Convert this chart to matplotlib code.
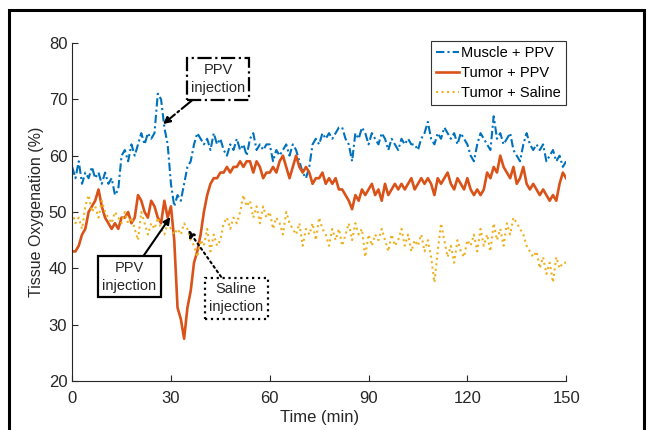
#!/usr/bin/env python3
"""Tissue oxygenation vs time after PPV / saline injection (MATLAB-style figure)."""
import numpy as np
import matplotlib
matplotlib.use("Agg")
import matplotlib.pyplot as plt
from matplotlib.patches import Rectangle

plt.rcParams["font.family"] = ["Liberation Sans", "DejaVu Sans"]

# =============================================================================
# DATA (1-min sampling)
# =============================================================================
time_min = np.arange(0, 151)

muscle_ppv = [
    58, 56, 59, 55, 57, 56, 58, 56, 57, 55,   # 0-9
    57, 55, 56, 53, 54, 60, 61, 59, 62, 60,   # 10-19
    62, 64, 62, 64, 63, 64, 71, 70, 65, 62,   # 20-29
    55, 51, 53, 52, 55, 58, 59, 62, 64, 63,   # 30-39
    62, 63, 61, 64, 62, 63, 61, 60, 62, 61,   # 40-49
    63, 61, 62, 60, 63, 64, 61, 62, 61, 62,   # 50-59
    62, 59, 61, 60, 61, 62, 60, 62, 61, 59,   # 60-69
    57, 56, 58, 62, 63, 62, 64, 63, 64, 63,   # 70-79
    64, 65, 65, 63, 62, 59, 64, 63, 65, 64,   # 80-89
    62, 64, 63, 62, 64, 63, 61, 63, 62, 61,   # 90-99
    63, 62, 63, 62, 62, 61, 63, 64, 66, 63,   # 100-109
    62, 64, 63, 65, 64, 63, 64, 62, 64, 63,   # 110-119
    62, 60, 59, 62, 64, 63, 62, 61, 67, 63,   # 120-129
    64, 62, 63, 64, 61, 60, 59, 62, 64, 62,   # 130-139
    61, 62, 61, 62, 59, 60, 61, 59, 60, 58,   # 140-149
    59,                                       # 150
]

tumor_ppv = [
    43, 43, 44, 46, 47, 50, 51, 52, 54, 51,   # 0-9
    49, 48, 47, 48, 47, 49, 49, 50, 48, 49,   # 10-19
    53, 52, 50, 49, 52, 51, 49, 48, 52, 49,   # 20-29
    51, 45, 33, 31, 27.5, 33, 36, 41, 43, 46, # 30-39
    50, 53, 55, 56, 56, 57, 57, 58, 57, 58,   # 40-49
    58, 59, 58, 59, 59, 57, 59, 58, 56, 57,   # 50-59
    57, 58, 57, 59, 60, 58, 56, 58, 60, 58,   # 60-69
    57, 58, 57, 55, 56, 56, 57, 55, 56, 55,   # 70-79
    56, 54, 54, 53, 52, 50.5, 53, 52, 54, 53, # 80-89
    54, 55, 53, 54, 52, 55, 53, 54, 55, 54,   # 90-99
    55, 54, 55, 56, 54, 55, 56, 55, 56, 55,   # 100-109
    53, 56, 55, 56, 57, 55, 54, 56, 55, 54,   # 110-119
    56, 54, 53, 54, 53, 54, 57, 56, 58, 57,   # 120-129
    60, 58, 57, 56, 58, 55, 56, 58, 55, 54,   # 130-139
    55, 54, 53, 54, 53, 52, 53, 52, 55, 57,   # 140-149
    56,                                       # 150
]

tumor_saline = [
    50, 48, 49, 47, 51, 53, 50, 51, 49, 52,   # 0-9
    50, 49, 48, 50, 49, 48, 50, 48, 49, 47,   # 10-19
    45, 50, 48, 46, 48, 47, 49, 47, 46, 48,   # 20-29
    47, 46, 47, 46, 48, 47, 45, 44, 42, 45,   # 30-39
    44, 47, 43, 46, 44, 45, 48, 49, 47, 49,   # 40-49
    48, 50, 53, 51, 52, 49, 51, 48, 51, 49,   # 50-59
    50, 47, 49, 48, 46, 50, 48, 47, 46, 48,   # 60-69
    44, 47, 46, 48, 45, 49, 47, 46, 44, 47,   # 70-79
    45, 47, 44, 46, 48, 45, 48, 46, 47, 42,   # 80-89
    46, 44, 46, 45, 47, 45, 43, 46, 44, 45,   # 90-99
    47, 44, 46, 43, 45, 44, 46, 43, 45, 42,   # 100-109
    37.5, 43, 48, 45, 42, 44, 41, 45, 43, 42, # 110-119
    45, 44, 46, 43, 47, 44, 46, 43, 48, 45,   # 120-129
    47, 44, 48, 46, 49, 48, 47, 46, 44, 43,   # 130-139
    42, 43, 40, 42, 39, 41, 37.5, 42, 40, 41, # 140-149
    41,                                       # 150
]

SERIES_LABELS = ["Muscle + PPV", "Tumor + PPV", "Tumor + Saline"]
X_TICKS = [0, 30, 60, 90, 120, 150]
Y_TICKS = [20, 30, 40, 50, 60, 70, 80]

# =============================================================================
# DISPLAY
# =============================================================================
BLUE, ORANGE, YELLOW = "#0072BD", "#D95319", "#EDB120"
GRAY = "#262626"

fig = plt.figure(figsize=(6.5, 4.3), dpi=100)
ax = fig.add_axes([0.111, 0.114, 0.760, 0.786])

ax.plot(time_min, muscle_ppv, color=BLUE, lw=1.5, ls=(0, (4, 1.5, 1, 1.5)),
        label=SERIES_LABELS[0])
ax.plot(time_min, tumor_ppv, color=ORANGE, lw=1.9, ls="-", label=SERIES_LABELS[1])
ax.plot(time_min, tumor_saline, color=YELLOW, lw=1.5, ls=":", label=SERIES_LABELS[2])

ax.set_xlim(0, 150)
ax.set_ylim(20, 80)
ax.set_xticks(X_TICKS)
ax.set_yticks(Y_TICKS)
ax.tick_params(direction="in", length=4, width=0.8, colors=GRAY, labelsize=12)
ax.tick_params(axis="x", pad=7)
for side in ("top", "right"):
    ax.spines[side].set_visible(False)
for side in ("left", "bottom"):
    ax.spines[side].set_color(GRAY)
    ax.spines[side].set_linewidth(0.8)
ax.set_xlabel("Time (min)", fontsize=12, color=GRAY, labelpad=3)
ax.set_ylabel("Tissue Oxygenation (%)", fontsize=11.5, color=GRAY, labelpad=3)

leg = ax.legend(loc="upper right", bbox_to_anchor=(1.0, 1.006), borderaxespad=0,
                fontsize=10.5, fancybox=False, framealpha=1, edgecolor="#333333",
                handlelength=1.6, handletextpad=0.15, labelspacing=0.42,
                borderpad=0.35)
leg.get_frame().set_linewidth(0.8)

# injection call-outs
def callout(text, xy, xytext, ls):
    ax.annotate(text, xy=xy, xytext=xytext, ha="center", va="center",
                fontsize=10.5, color=GRAY, linespacing=1.4,
                bbox=dict(boxstyle="square,pad=0.3", fc="white", ec="black",
                          lw=1.6, ls=ls),
                arrowprops=dict(arrowstyle="-|>", color="black", lw=1.5, ls=ls,
                                mutation_scale=10, shrinkA=0, shrinkB=0))

callout("PPV\ninjection", (27.6, 65.6), (44.3, 73.6), "-.")
callout("PPV\ninjection", (29.8, 49.1), (17.3, 38.5), "-")
callout("Saline\ninjection", (35.2, 46.8), (49.8, 34.7), ":")

# outer black frame (cropped at the bottom, as in the screenshot)
fig.patches.append(Rectangle((9 / 650, -0.05), 635 / 650, 1 - 10 / 430 + 0.05,
                             transform=fig.transFigure, fill=False,
                             ec="black", lw=2.2))

fig.savefig("out.png", dpi=100)
